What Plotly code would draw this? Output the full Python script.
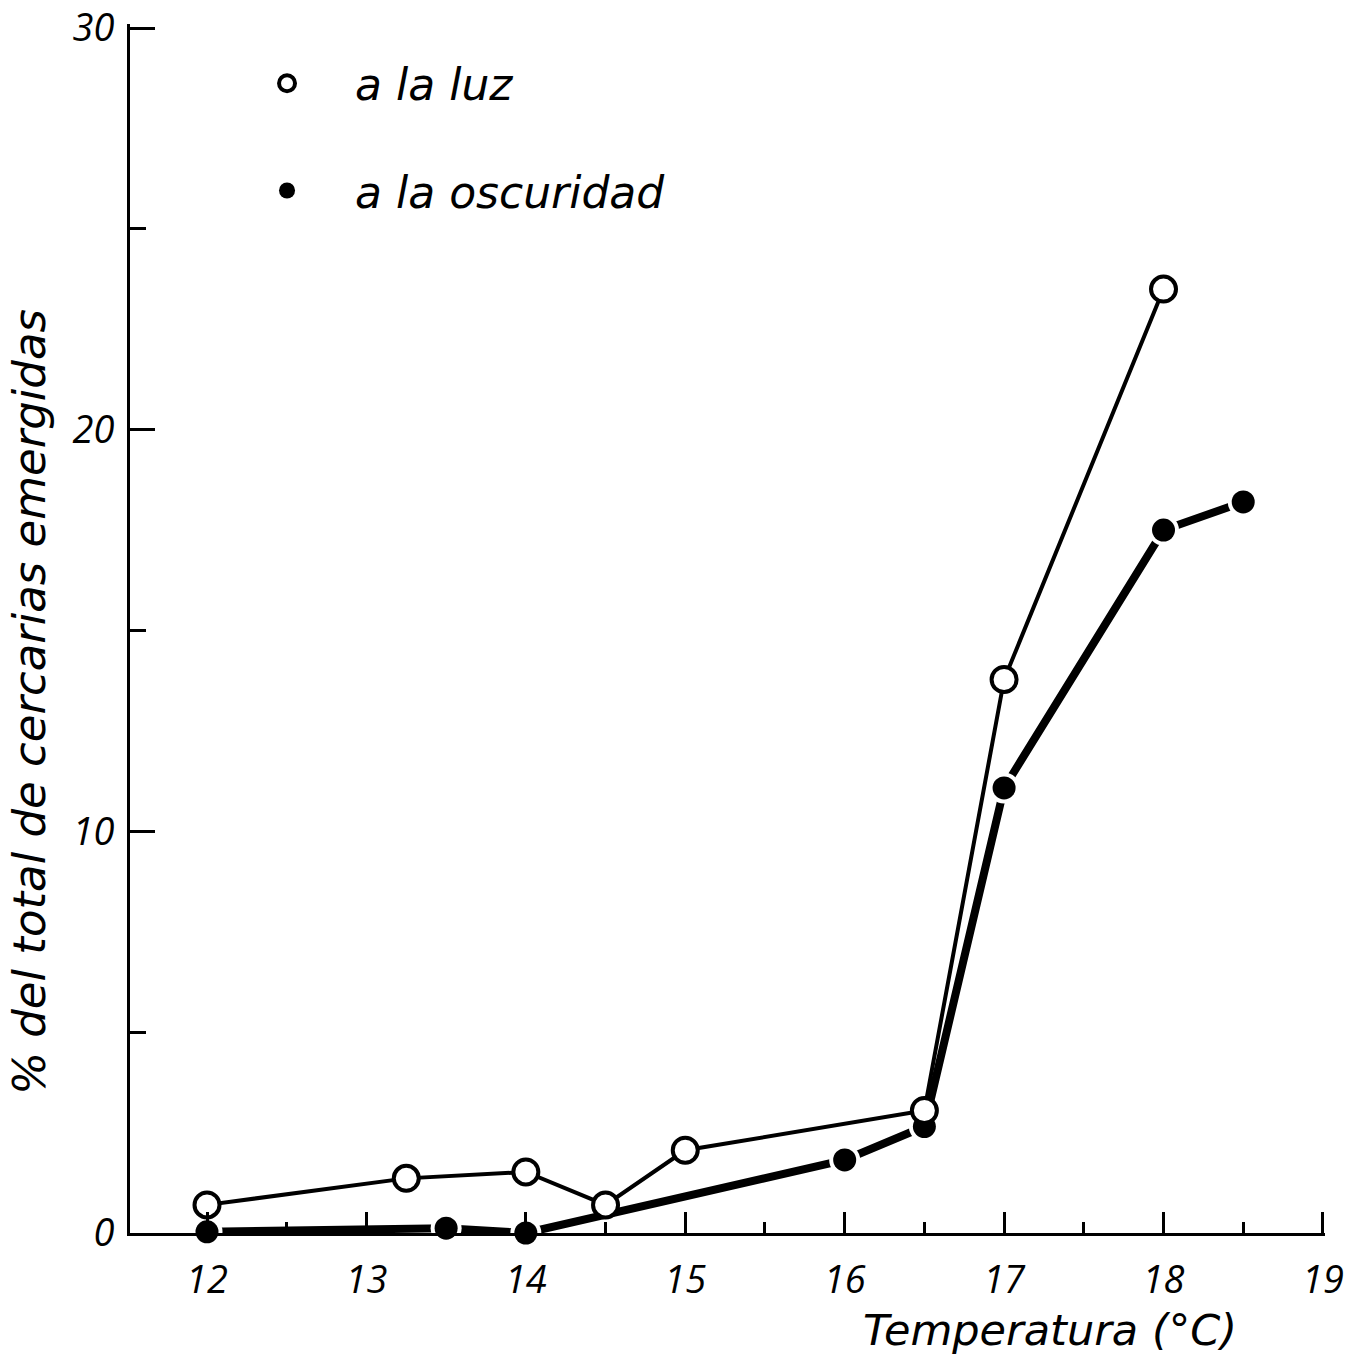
import plotly.graph_objects as go

# ---- data ----
temp_luz = [12, 13.25, 14, 14.5, 15, 16.5, 17, 18]
pct_luz = [0.7, 1.36, 1.52, 0.7, 2.06, 3.05, 13.78, 23.5]

temp_osc = [12, 13.5, 14, 16, 16.5, 17, 18, 18.5]
pct_osc = [0.03, 0.12, 0.0, 1.82, 2.65, 11.08, 17.5, 18.2]

x_ticks = [12, 13, 14, 15, 16, 17, 18, 19]
x_minor = [12.5, 13.5, 14.5, 15.5, 16.5, 17.5, 18.5]
y_ticks = [0, 10, 20, 30]
y_minor = [5, 15, 25]

name_luz = "a la luz"
name_osc = "a la oscuridad"
x_title = "Temperatura (°C)"
y_title = "% del total de cercarias emergidas"

TEXT_FONT = "DejaVu Sans"
TICK_FONT = "Open Sans"

fig = go.Figure()

# lines
fig.add_trace(go.Scatter(x=temp_osc, y=pct_osc, mode="lines",
                         line=dict(color="black", width=8),
                         showlegend=False, cliponaxis=False, hoverinfo="skip"))
fig.add_trace(go.Scatter(x=temp_luz, y=pct_luz, mode="lines",
                         line=dict(color="black", width=4),
                         showlegend=False, cliponaxis=False, hoverinfo="skip"))
# white halo around the dark points (small gap between line and dot)
fig.add_trace(go.Scatter(x=temp_osc, y=pct_osc, mode="markers",
                         marker=dict(symbol="circle", size=31, color="white"),
                         showlegend=False, cliponaxis=False, hoverinfo="skip"))
# markers
fig.add_trace(go.Scatter(x=temp_osc, y=pct_osc, mode="markers", name=name_osc,
                         legendgroup="osc", legendrank=2,
                         marker=dict(symbol="circle", size=23, color="black"),
                         cliponaxis=False))
fig.add_trace(go.Scatter(x=temp_luz, y=pct_luz, mode="markers", name=name_luz,
                         legendgroup="luz", legendrank=1,
                         marker=dict(symbol="circle", size=25, color="white",
                                     line=dict(color="black", width=4)),
                         cliponaxis=False))

tickfont = dict(family=TICK_FONT, size=38, color="black", style="italic")

fig.update_layout(
    width=1358, height=1360,
    margin=dict(l=130, r=33, t=24, b=127),
    paper_bgcolor="white", plot_bgcolor="white",
    showlegend=True,
    legend=dict(x=0.0745, y=0.980, xanchor="left", yanchor="top",
                font=dict(family=TEXT_FONT, size=44, color="black", style="italic"),
                itemwidth=126, tracegroupgap=47, bgcolor="rgba(0,0,0,0)",
                traceorder="grouped"),
    xaxis=dict(range=[11.517, 19.013], showline=True, linecolor="black", linewidth=3,
               ticks="inside", ticklen=21, tickwidth=3, tickcolor="black",
               tickmode="array", tickvals=x_ticks, ticktext=[str(v) for v in x_ticks],
               minor=dict(tickmode="array", tickvals=x_minor, ticks="inside",
                          ticklen=11, tickwidth=3, tickcolor="black", showgrid=False),
               showgrid=False, zeroline=False, tickfont=tickfont,
               ticklabelstandoff=11, automargin=False),
    yaxis=dict(range=[0, 30.1], showline=True, linecolor="black", linewidth=3,
               ticks="inside", ticklen=25, tickwidth=3, tickcolor="black",
               tickmode="array", tickvals=y_ticks, ticktext=[str(v) for v in y_ticks],
               minor=dict(tickmode="array", tickvals=y_minor, ticks="inside",
                          ticklen=16, tickwidth=3, tickcolor="black", showgrid=False),
               showgrid=False, zeroline=False, tickfont=tickfont,
               ticklabelstandoff=5, automargin=False),
    annotations=[
        dict(text=y_title, xref="paper", yref="paper", x=-0.084, y=0.439,
             xanchor="center", yanchor="middle", textangle=-90, showarrow=False,
             font=dict(family=TEXT_FONT, size=45, color="black", style="italic")),
        dict(text=x_title, xref="paper", yref="paper", x=0.77, y=-0.0802,
             xanchor="center", yanchor="middle", showarrow=False,
             font=dict(family=TEXT_FONT, size=43, color="black", style="italic")),
    ],
)

fig.write_html("out.html")
